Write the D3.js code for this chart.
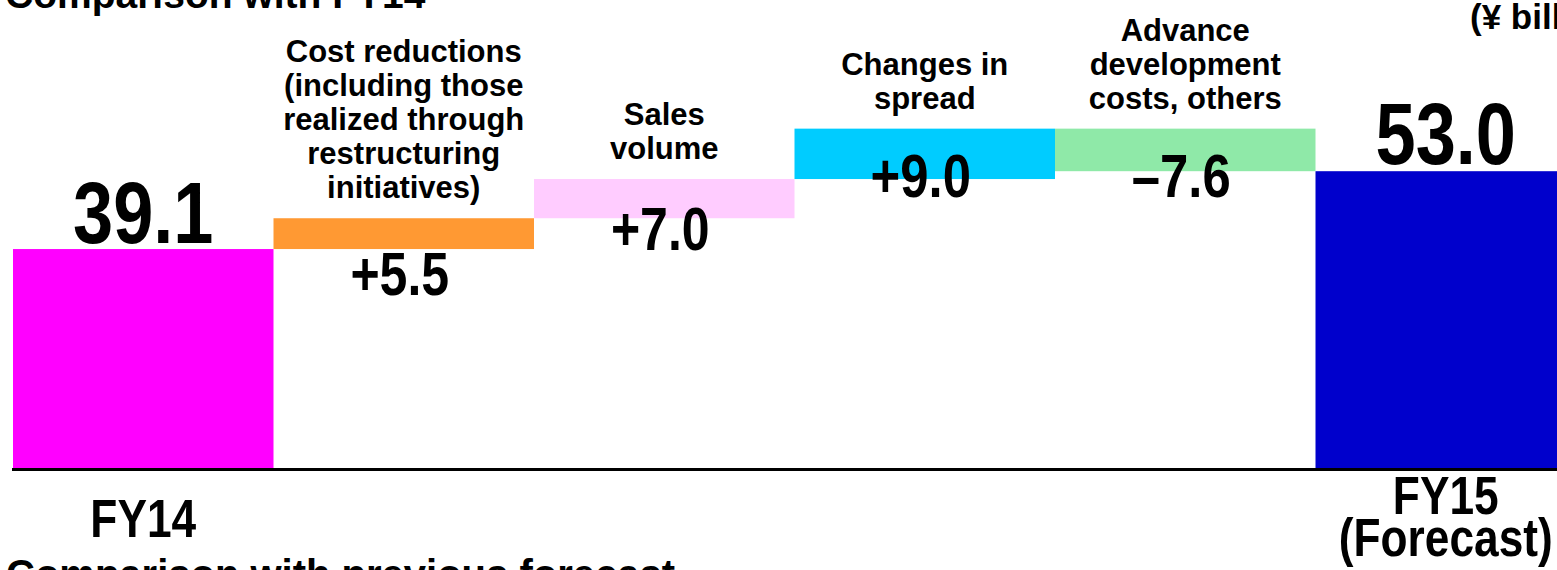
<!DOCTYPE html>
<html>
<head>
<meta charset="utf-8">
<script src="https://cdn.jsdelivr.net/npm/d3@7"></script>
<style>
  body { margin: 0; background: #ffffff; overflow: hidden; }
  svg { display: block; }
</style>
</head>
<body>
<div id="waterfall"></div>
<script>
// ------------------------------- //
// Data
// ------------------------------- //
var steps = ["FY14", "Cost reductions", "Sales volume", "Changes in spread", "Advance development", "FY15"]
var stepKind = ["total", "delta", "delta", "delta", "delta", "total"]
var stepValues = [39.1, 5.5, 7.0, 9.0, -7.6, 53.0]
var valueLabels = ["39.1", "+5.5", "+7.0", "+9.0", "\u20137.6", "53.0"]
var topLabels = [
    [],
    ["Cost reductions", "(including those", "realized through", "restructuring", "initiatives)"],
    ["Sales", "volume"],
    ["Changes in", "spread"],
    ["Advance", "development", "costs, others"],
    []
]
var bottomLabels = [["FY14"], [], [], [], [], ["FY15", "(Forecast)"]]
var stepColors = ["#ff00ff", "#ff9933", "#ffccff", "#00ccff", "#8fe9a8", "#0000cc"]

// Size of the page
var width = 1557,
    height = 570

var svg = d3.select("#waterfall")
    .append("svg")
    .attr("width", width)
    .attr("height", height)

// Is the narrow font there? if not we squeeze the normal one
var probe = svg.append("text").attr("font-weight", "bold").attr("font-size", "100px")
    .style("font-family", "'Liberation Sans Narrow'").text("FY14 39.1")
var wNarrow = probe.node().getComputedTextLength()
probe.style("font-family", "'Liberation Sans'")
var wWide = probe.node().getComputedTextLength()
probe.remove()
var hasNarrow = wNarrow / wWide < 0.9
var narrowFont = hasNarrow ? "'Liberation Sans Narrow', 'Arial Narrow', sans-serif" : "'Liberation Sans', Arial, sans-serif"
var squeeze = hasNarrow ? 1 : 0.82

// ----------------- //
// Scales
// ----------------- //
var x = d3.scaleBand()
    .domain(steps)
    .range([13, 1576])
    .padding(0)

var y = d3.scaleLinear()
    .domain([0, 70])
    .range([468, 76])

// running total -> start / end of each bar
var running = 0
var bars = steps.map(function(s, i) {
    var start, end
    if (stepKind[i] === "total") { start = 0; end = stepValues[i]; running = stepValues[i] }
    else { start = running; end = running + stepValues[i]; running = end }
    return { step: s, i: i, lo: Math.min(start, end), hi: Math.max(start, end) }
})

// ------------------------------- //
// Bars
// ------------------------------- //
svg.append("g")
    .selectAll("rect")
    .data(bars)
    .enter()
    .append("rect")
    .attr("x", function(d) { return x(d.step) })
    .attr("y", function(d) { return y(d.hi) })
    .attr("width", x.bandwidth())
    .attr("height", function(d) { return y(d.lo) - y(d.hi) })
    .attr("fill", function(d) { return stepColors[d.i] })

// base line
svg.append("line")
    .attr("x1", 12)
    .attr("x2", width)
    .attr("y1", y(0) + 1.5)
    .attr("y2", y(0) + 1.5)
    .attr("stroke", "#000")
    .attr("stroke-width", 3)

// ------------------------------- //
// Value labels
// ------------------------------- //
// nudge of each label from the top of its bar
var labelDy = [-6, 77, 71, 68, 68, -7]
var labelSize = [88, 61, 61, 62, 62, 88]

bars.forEach(function(d) {
    var cx = x(d.step) + x.bandwidth() / 2 - (stepKind[d.i] === "delta" ? 4 : 0)
    svg.append("text")
        .attr("transform", "translate(" + cx + "," + (y(d.hi) + labelDy[d.i]) + ") scale(" + squeeze + ",1)")
        .attr("text-anchor", "middle")
        .attr("font-weight", "bold")
        .attr("font-size", labelSize[d.i] + "px")
        .style("font-family", narrowFont)
        .attr("fill", "#000")
        .text(valueLabels[d.i])
})

// ------------------------------- //
// Category labels above the step bars
// ------------------------------- //
bars.forEach(function(d) {
    var lines = topLabels[d.i]
    if (!lines.length) { return }
    var cx = x(d.step) + x.bandwidth() / 2
    var last = y(d.hi) - 20
    lines.forEach(function(t, k) {
        svg.append("text")
            .attr("x", cx)
            .attr("y", last - (lines.length - 1 - k) * 34)
            .attr("text-anchor", "middle")
            .attr("font-weight", "bold")
            .attr("font-size", "31px")
            .style("font-family", "'Liberation Sans', Arial, sans-serif")
            .attr("fill", "#000")
            .text(t)
    })
})

// ------------------------------- //
// Category labels under the totals
// ------------------------------- //
var bottomY = [[537], [], [], [], [], [514, 556]]
bars.forEach(function(d) {
    var cx = x(d.step) + x.bandwidth() / 2
    bottomLabels[d.i].forEach(function(t, k) {
        svg.append("text")
            .attr("transform", "translate(" + cx + "," + bottomY[d.i][k] + ") scale(" + squeeze + ",1)")
            .attr("text-anchor", "middle")
            .attr("font-weight", "bold")
            .attr("font-size", "54px")
            .style("font-family", narrowFont)
            .attr("fill", "#000")
            .text(t)
    })
})

// ------------------------------- //
// Slide texts cut by the frame
// ------------------------------- //
svg.append("text")
    .attr("x", 5)
    .attr("y", 8)
    .attr("font-weight", "bold")
    .attr("font-size", "39px")
    .style("font-family", "'Liberation Sans', Arial, sans-serif")
    .text("Comparison with FY14")

svg.append("text")
    .attr("x", 6)
    .attr("y", 588)
    .attr("font-weight", "bold")
    .attr("font-size", "40px")
    .style("font-family", "'Liberation Sans', Arial, sans-serif")
    .text("Comparison with previous forecast")

svg.append("text")
    .attr("x", 1470)
    .attr("y", 29)
    .attr("font-weight", "bold")
    .attr("font-size", "35px")
    .style("font-family", "'Liberation Sans', Arial, sans-serif")
    .text("(\u00a5 billion)")
</script>
</body>
</html>
